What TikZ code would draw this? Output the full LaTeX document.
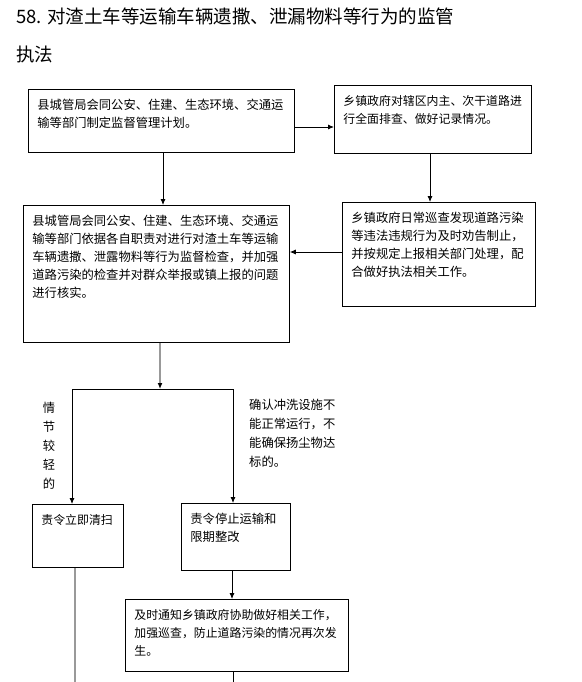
\documentclass[tikz,border=0pt]{standalone}
\usepackage{fontspec}
\setmainfont{Noto Sans CJK SC}
\usetikzlibrary{arrows.meta}

\newcommand{\flowfont}{\fontsize{12.3}{17.8}\selectfont}
\newcommand{\smallflowfont}{\fontsize{11.9}{17.8}\selectfont}
\newcommand{\flowtext}[3]{\parbox[t][#2][t]{#1}{\raggedright #3}}

\begin{document}
\begin{tikzpicture}[
  x=1pt,y=-1pt,
  flow/.style={draw,line width=0.8pt,anchor=north west,inner xsep=9pt,inner ysep=10pt,font=\flowfont},
  note/.style={inner sep=0pt,font=\flowfont,align=left},
  link/.style={line width=0.8pt},
  arrow/.style={link,-{Latex[length=6pt,width=5pt]}},
  trunk/.style={line width=1.4pt,gray!80}
]
  \useasboundingbox (0,0) rectangle (581,682);

  \node[anchor=north west,inner sep=0pt,align=left,font=\fontsize{18.5}{38}\selectfont] (title) at (16,8)
    {58. 对渣土车等运输车辆遗撒、泄漏物料等行为的监管\\执法};

  % upper part
  \node[flow] (plan) at (28,89)
    {\flowtext{248pt}{43pt}{县城管局会同公安、住建、生态环境、交通运\\输等部门制定监督管理计划。}};
  \node[flow,font=\smallflowfont] (survey) at (334,85)
    {\flowtext{179pt}{48pt}{乡镇政府对辖区内主、次干道路进\\行全面排查、做好记录情况。}};
  \node[flow] (inspect) at (23,205)
    {\flowtext{248pt}{117pt}{县城管局会同公安、住建、生态环境、交通运\\输等部门依据各自职责对进行对渣土车等运输\\车辆遗撒、泄露物料等行为监督检查，并加强\\道路污染的检查并对群众举报或镇上报的问题\\进行核实。}};
  \node[flow] (patrol) at (342,202)
    {\flowtext{175pt}{84pt}{乡镇政府日常巡查发现道路污染\\等违法违规行为及时劝告制止，\\并按规定上报相关部门处理，配\\合做好执法相关工作。}};

  % lower part
  \node[flow,font=\smallflowfont] (sweep) at (32,504)
    {\flowtext{73pt}{43pt}{责令立即清扫}};
  \node[flow] (rectify) at (181,503)
    {\flowtext{91pt}{47pt}{责令停止运输和\\限期整改}};
  \node[flow,font=\smallflowfont] (notify) at (125,599)
    {\flowtext{205pt}{52pt}{及时通知乡镇政府协助做好相关工作，\\加强巡查，防止道路污染的情况再次发\\生。}};

  \node[note,align=center,font=\fontsize{12.3}{19}\selectfont] (minor) at (49,446) {情\\节\\较\\轻\\的};
  \node[note,anchor=north west,font=\fontsize{12.3}{19}\selectfont] (unwashed) at (249,399)
    {确认冲洗设施不\\能正常运行，不\\能确保扬尘物达\\标的。};

  \coordinate (split) at (160,389);
  \coordinate (branchL) at (72,389);
  \coordinate (branchR) at (233,389);
  \coordinate (endL) at (75,682);
  \coordinate (endR) at (233,682);

  \draw[arrow] (plan.east |- 0,127) -- (survey.west |- 0,127);
  \draw[arrow] (plan.south -| 163,0) -- (inspect.north -| 163,0);
  \draw[arrow] (survey.south -| 430,0) -- (patrol.north -| 430,0);
  \draw[arrow] (patrol.west |- 0,252) -- (inspect.east |- 0,252);

  \draw[trunk,-{Latex[length=6pt,width=5pt,black]}] (inspect.south -| split) -- (split);
  \draw[link] (branchL) -- (branchR);
  \draw[arrow] (branchL) -- (sweep.north -| branchL);
  \draw[arrow] (branchR) -- (rectify.north -| branchR);
  \draw[arrow] (rectify.south -| 232,0) -- (notify.north -| 232,0);
  \draw[trunk] (sweep.south -| endL) -- (endL);
  \draw[link] (notify.south -| endR) -- (endR);
\end{tikzpicture}
\end{document}
